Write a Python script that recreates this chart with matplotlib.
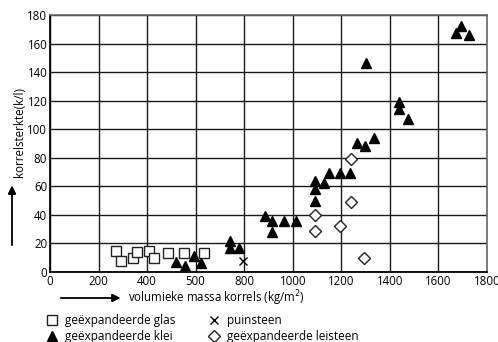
import matplotlib.pyplot as plt
from matplotlib.lines import Line2D

plt.rcParams['font.family'] = ['Open Sans', 'DejaVu Sans']

# geëxpandeerde glas
glas_x = [272, 291, 343, 357, 409, 429, 484, 551, 635]
glas_y = [14.5, 7.5, 9.5, 14, 15, 10, 13.5, 13.5, 13.5]

# geëxpandeerde klei
klei_x = [518, 558, 593, 620, 741, 741, 779, 886, 916, 916, 963, 1015,
          1090, 1090, 1090, 1127, 1149, 1193, 1235, 1265, 1296, 1333,
          1300, 1437, 1437, 1475, 1671, 1694, 1725]
klei_y = [7, 4, 11, 6, 22, 17, 17, 39, 36, 28, 36, 36,
          50, 58, 64, 62, 69.5, 69.5, 69.5, 90, 88, 94,
          146.5, 119, 114.5, 107.5, 167.5, 172, 166]

# puinsteen
puin_x = [795]
puin_y = [8]

# geëxpandeerde leisteen
lei_x = [1092, 1092, 1193, 1241, 1241, 1293]
lei_y = [40, 28.5, 32, 79, 49, 9.5]

xticks = list(range(0, 1801, 200))
xticklabels = ['0', '200', '400', '500', '800', '1000', '1200', '1400', '1600', '1800']
yticks = list(range(0, 181, 20))

fig = plt.figure(figsize=(4.98, 3.42), dpi=100)
ax = fig.add_axes([50 / 498, 1 - 272 / 342, 437 / 498, 257 / 342])

ax.plot(glas_x, glas_y, 's', ms=7.5, mfc='white', mec='#222', mew=1.0, ls='none')
ax.plot(klei_x, klei_y, '^', ms=7, color='black', ls='none')
ax.plot(puin_x, puin_y, 'x', ms=5.5, color='black', mew=1.0, ls='none')
ax.plot(lei_x, lei_y, 'D', ms=6, mfc='white', mec='#222', mew=1.0, ls='none')

ax.set_xlim(0, 1800)
ax.set_ylim(0, 180)
ax.set_xticks(xticks)
ax.set_xticklabels(xticklabels)
ax.set_yticks(yticks)
ax.tick_params(length=0, labelsize=8.3, pad=2)
ax.grid(True, color='#1a1a1a', lw=1.0)
ax.set_axisbelow(True)
for side in ('left', 'bottom'):
    ax.spines[side].set_linewidth(1.3)
    ax.spines[side].set_color('black')
for side in ('top', 'right'):
    ax.spines[side].set_linewidth(1.2)
    ax.spines[side].set_color('#666')

# axis titles with arrows
fig.text(128 / 498, 1 - 298 / 342, 'volumieke massa korrels (kg/m$^2$)',
         fontsize=8.3, ha='left', va='center')
fig.add_artist(plt.annotate('', xy=(123 / 498, 1 - 298 / 342), xytext=(58 / 498, 1 - 298 / 342),
                            xycoords='figure fraction',
                            arrowprops=dict(arrowstyle='-|>', color='black', lw=1.0,
                                            mutation_scale=12)))
fig.text(19 / 498, 1 - 132 / 342, 'korrelsterkte(k/l)', fontsize=8.3,
         rotation=90, ha='center', va='center')
fig.add_artist(plt.annotate('', xy=(12 / 498, 1 - 183 / 342), xytext=(12 / 498, 1 - 248 / 342),
                            xycoords='figure fraction',
                            arrowprops=dict(arrowstyle='-|>', color='black', lw=1.0,
                                            mutation_scale=12)))

handles = [
    Line2D([], [], marker='s', ms=7.5, mfc='white', mec='#222', ls='none'),
    Line2D([], [], marker='^', ms=7, color='black', ls='none'),
    Line2D([], [], marker='x', ms=5.5, color='black', ls='none'),
    Line2D([], [], marker='D', ms=6, mfc='white', mec='#222', ls='none'),
]
labels = ['geëxpandeerde glas', 'geëxpandeerde klei', 'puinsteen', 'geëxpandeerde leisteen']
fig.legend(handles, labels, ncol=2, frameon=False, fontsize=8.5,
           loc='upper left', bbox_to_anchor=(46 / 498, 1 - 314 / 342),
           handlelength=1.0, handletextpad=0.6, columnspacing=2.8,
           labelspacing=0.25, borderaxespad=0, borderpad=0)

fig.savefig('out.png', dpi=100)
